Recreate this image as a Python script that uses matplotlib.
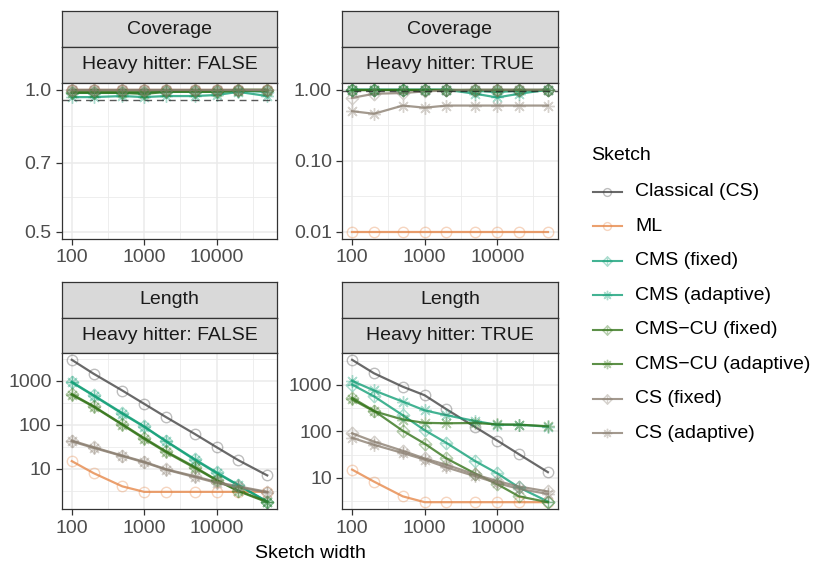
import numpy as np
import matplotlib
matplotlib.use('Agg')
import matplotlib.pyplot as plt
from matplotlib.path import Path
from matplotlib.lines import Line2D
from matplotlib.ticker import FixedLocator, FixedFormatter, NullFormatter

plt.rcParams['font.family'] = ['Liberation Sans', 'DejaVu Sans']

widths = [100, 200, 500, 1000, 2000, 5000, 10000, 20000, 50000]
sketches = ['Classical (CS)', 'ML', 'CMS (fixed)', 'CMS (adaptive)',
            'CMS\u2212CU (fixed)', 'CMS\u2212CU (adaptive)', 'CS (fixed)', 'CS (adaptive)']
colors = ['#444444', '#E6884A', '#14A078', '#14A078',
          '#35751A', '#35751A', '#8C8072', '#8C8072']

# one row per sketch, same order as `sketches`
cov_false = [
    [1.0, 1.0, 1.0, 1.0, 1.0, 1.0, 1.0, 1.0, 1.0],
    [1.0, 1.0, 1.0, 1.0, 1.0, 1.0, 1.0, 1.0, 1.0],
    [0.985, 0.985, 0.985, 0.985, 0.99, 0.99, 0.99, 0.995, 0.99],
    [0.965, 0.965, 0.97, 0.965, 0.97, 0.97, 0.975, 0.99, 0.97],
    [0.99, 0.99, 0.99, 0.99, 0.995, 0.995, 0.995, 1.0, 1.0],
    [0.985, 0.985, 0.985, 0.98, 0.99, 0.99, 0.99, 0.995, 0.995],
    [1.0, 1.0, 1.0, 1.0, 1.0, 1.0, 1.0, 1.0, 1.0],
    [1.0, 1.0, 1.0, 1.0, 1.0, 1.0, 1.0, 1.0, 1.0],
]
cov_true = [
    [1.0, 1.0, 1.0, 1.0, 1.0, 1.0, 1.0, 1.0, 1.0],
    [0.01, 0.01, 0.01, 0.01, 0.01, 0.01, 0.01, 0.01, 0.01],
    [1.0, 1.0, 1.0, 1.0, 1.0, 0.97, 0.93, 0.97, 1.0],
    [1.0, 1.0, 1.0, 1.0, 1.0, 0.88, 0.78, 0.88, 1.0],
    [1.0, 1.0, 1.0, 1.0, 1.0, 1.0, 1.0, 1.0, 1.0],
    [1.0, 1.0, 1.0, 1.0, 1.0, 1.0, 1.0, 1.0, 1.0],
    [0.77, 0.88, 0.9, 0.95, 0.98, 1.0, 1.0, 1.0, 1.0],
    [0.5, 0.46, 0.6, 0.56, 0.6, 0.6, 0.6, 0.6, 0.6],
]
len_false = [
    [3000, 1450, 600, 300, 150, 62, 31, 15.7, 7.1],
    [15, 8, 4, 3, 3, 3, 3, 3, 3],
    [950, 470, 185, 92, 43, 16.5, 8.3, 4.3, 1.8],
    [920, 460, 178, 90, 42, 16, 8, 4.2, 1.8],
    [500, 265, 103, 50, 25, 11, 5.6, 3.2, 1.8],
    [480, 258, 100, 48, 24, 10.5, 5.5, 3.1, 1.75],
    [44, 31, 20, 14.5, 9.8, 6.8, 5.0, 4.0, 3.0],
    [42, 30, 19.5, 14, 9.6, 6.5, 4.8, 3.8, 2.9],
]
len_true = [
    [3400, 1750, 900, 590, 295, 122, 63, 32, 13.2],
    [15, 8.3, 4, 3, 3, 3, 3, 3, 3],
    [1000, 560, 220, 105, 56, 22.7, 12.5, 6.2, 3.1],
    [1200, 750, 430, 280, 220, 165, 137, 138, 125],
    [520, 275, 102, 54, 26, 12.3, 7.3, 4.0, 3.0],
    [480, 268, 178, 151, 148, 150, 140, 138, 128],
    [90, 60, 38, 26, 19, 11.8, 8.5, 6.5, 5.1],
    [72, 51, 34, 24.5, 16.7, 10.8, 7.7, 5.8, 4.5],
]

W, H = 817, 562
fig = plt.figure(figsize=(W / 100, H / 100), dpi=100)


def box(x0, y0, x1, y1):
    return [x0 / W, 1 - y1 / H, (x1 - x0) / W, (y1 - y0) / H]


# ggplot shape 9: diamond with a plus inside
diamond_plus = Path(
    [(0, 1), (1, 0), (0, -1), (-1, 0), (0, 1), (0, 1), (0, -1), (-1, 0), (1, 0)],
    [Path.MOVETO, Path.LINETO, Path.LINETO, Path.LINETO, Path.CLOSEPOLY,
     Path.MOVETO, Path.LINETO, Path.MOVETO, Path.LINETO])
asterisk = (8, 2, 0)
markers = ['o', 'o', diamond_plus, asterisk, diamond_plus, asterisk, diamond_plus, asterisk]
msizes = [7.5, 7.5, 9, 9, 9, 9, 9, 9]

border = '#333333'
grid_c = '#EBEBEB'

cols = [(62, 277), (342.3, 557.7)]
rows = [dict(s1=(11, 47), s2=(47, 82.7), p=(82.7, 239)),
        dict(s1=(281.7, 317.5), s2=(317.5, 352.7), p=(352.7, 509.3))]

panels = [
    (0, 0, 'Coverage', 'Heavy hitter: FALSE', cov_false, [0.5, 0.7, 1.0], ['0.5', '0.7', '1.0']),
    (0, 1, 'Coverage', 'Heavy hitter: TRUE', cov_true, [0.01, 0.1, 1.0], ['0.01', '0.10', '1.00']),
    (1, 0, 'Length', 'Heavy hitter: FALSE', len_false, [10, 100, 1000], ['10', '100', '1000']),
    (1, 1, 'Length', 'Heavy hitter: TRUE', len_true, [10, 100, 1000], ['10', '100', '1000']),
]


def geo_mid(breaks):
    b = np.log10(breaks)
    step = b[1] - b[0]
    b = np.concatenate([[b[0] - step], b, [b[-1] + step]])
    return list(10 ** ((b[:-1] + b[1:]) / 2))


for r, c, top, sub, data, yb, yl in panels:
    x0, x1 = cols[c]
    rr = rows[r]
    for (ya, yb_), label in [(rr['s1'], top), (rr['s2'], sub)]:
        sax = fig.add_axes(box(x0, ya, x1, yb_))
        sax.set_facecolor('#D9D9D9')
        sax.set_xticks([])
        sax.set_yticks([])
        for sp in sax.spines.values():
            sp.set_color(border)
            sp.set_linewidth(0.9)
        sax.text(0.5, 0.5, label, ha='center', va='center', fontsize=14,
                 color='#1A1A1A', transform=sax.transAxes)

    ax = fig.add_axes(box(x0, rr['p'][0], x1, rr['p'][1]))
    ax.set_xscale('log')
    ax.set_yscale('log')

    for i, vals in enumerate(data):
        ax.plot(widths, vals, color=colors[i], lw=1.6, alpha=0.8, zorder=2)
    for i, vals in enumerate(data):
        ax.plot(widths, vals, ls='none', marker=markers[i], ms=msizes[i],
                mfc='none', mec=colors[i], mew=1.0, alpha=0.35, zorder=3)

    if top == 'Coverage':
        ax.axhline(0.95, color='#222222', lw=1.0, ls=(0, (5, 3.5)), alpha=0.75, zorder=4)

    ax.margins(x=0.05, y=0.05)
    xl = np.log10([widths[0], widths[-1]])
    pad = 0.05 * (xl[1] - xl[0])
    ax.set_xlim(10 ** (xl[0] - pad), 10 ** (xl[1] + pad))
    if r == 0 and c == 0:
        yr = np.log10([0.5, 1.0])
        ypad = 0.05 * (yr[1] - yr[0])
        ax.set_ylim(10 ** (yr[0] - ypad), 10 ** (yr[1] + ypad))

    ax.xaxis.set_major_locator(FixedLocator([100, 1000, 10000]))
    ax.xaxis.set_major_formatter(FixedFormatter(['100', '1000', '10000']))
    ax.xaxis.set_minor_locator(FixedLocator(geo_mid([100, 1000, 10000])))
    ax.xaxis.set_minor_formatter(NullFormatter())
    ax.yaxis.set_major_locator(FixedLocator(yb))
    ax.yaxis.set_major_formatter(FixedFormatter(yl))
    ax.yaxis.set_minor_locator(FixedLocator(geo_mid(yb)))
    ax.yaxis.set_minor_formatter(NullFormatter())

    ax.grid(True, which='major', color=grid_c, lw=1.1, zorder=0)
    ax.grid(True, which='minor', color=grid_c, lw=0.6, zorder=0)
    ax.set_axisbelow(True)
    ax.tick_params(which='major', length=4, width=0.9, color=border,
                   labelcolor='#4D4D4D', labelsize=14, pad=3.5)
    ax.tick_params(which='minor', length=0)
    for sp in ax.spines.values():
        sp.set_color(border)
        sp.set_linewidth(0.9)
        sp.set_zorder(6)

# legend and axis title drawn on a full-figure overlay in pixel coordinates
ov = fig.add_axes([0, 0, 1, 1], facecolor='none')
ov.set_xlim(0, W)
ov.set_ylim(H, 0)
ov.axis('off')

ov.text(310, 553, 'Sketch width', ha='center', va='center', fontsize=14, color='black')
ov.text(591, 156, 'Sketch', ha='left', va='center', fontsize=14, color='black')
for i, name in enumerate(sketches):
    y = 191.7 + i * 34.5
    ov.add_line(Line2D([593, 622], [y, y], color=colors[i], lw=1.5, alpha=0.8))
    ov.add_line(Line2D([607.5], [y], ls='none', marker=markers[i], ms=msizes[i] * 0.75,
                       mfc='none', mec=colors[i], mew=1.0, alpha=0.35))
    ov.text(635, y, name, ha='left', va='center', fontsize=14, color='black')

fig.savefig('out.png', dpi=100)
